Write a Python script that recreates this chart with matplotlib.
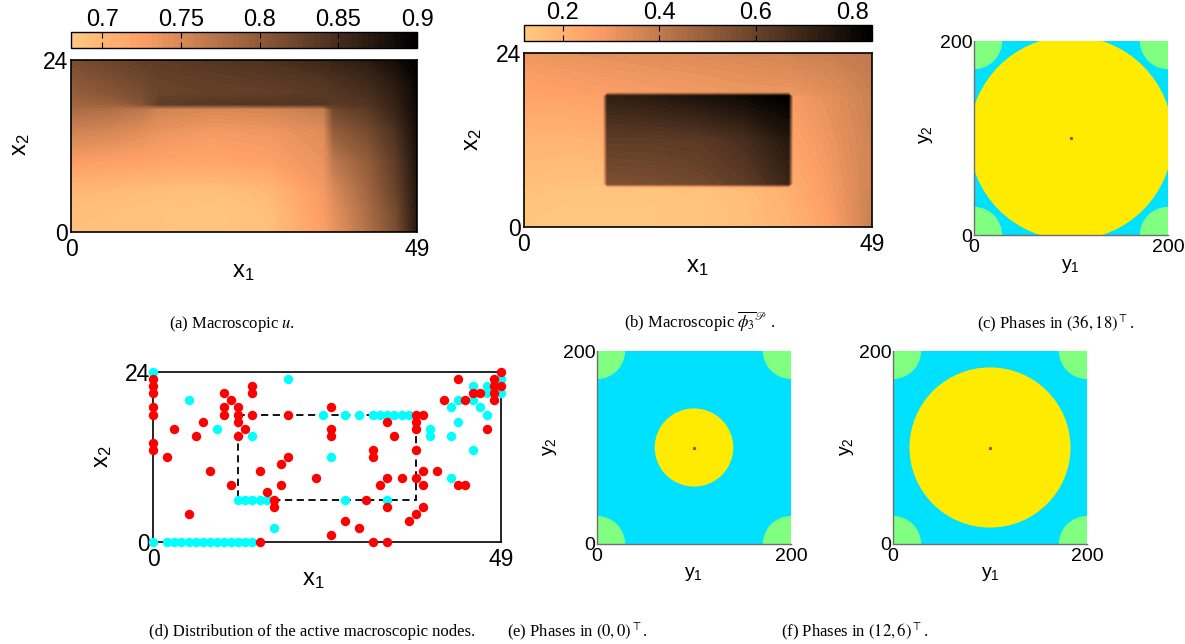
import numpy as np
import matplotlib
matplotlib.use('Agg')
import matplotlib.pyplot as plt
from matplotlib.patches import Circle, Rectangle
from matplotlib.colors import Normalize
from matplotlib.cm import ScalarMappable

plt.rcParams['font.family'] = ['Liberation Sans', 'DejaVu Sans']
plt.rcParams['mathtext.fontset'] = 'stix'

# ---- (a) macroscopic u, values read at grid nodes ----
ua_x1 = [0, 6, 10, 12.5, 20, 28, 35.8, 37.2, 42, 46, 49]
ua_x2 = [0, 3, 6, 10, 14, 17.2, 17.9, 19.5, 21.5, 24]
ua_vals = [
    [0.690, 0.690, 0.688, 0.687, 0.685, 0.690, 0.726, 0.736, 0.775, 0.812, 0.870],
    [0.692, 0.690, 0.688, 0.687, 0.685, 0.691, 0.728, 0.740, 0.780, 0.817, 0.870],
    [0.700, 0.697, 0.695, 0.693, 0.690, 0.699, 0.731, 0.748, 0.787, 0.826, 0.872],
    [0.728, 0.724, 0.722, 0.720, 0.718, 0.723, 0.738, 0.768, 0.797, 0.833, 0.876],
    [0.755, 0.750, 0.743, 0.737, 0.730, 0.733, 0.745, 0.795, 0.815, 0.845, 0.882],
    [0.782, 0.776, 0.768, 0.755, 0.750, 0.752, 0.762, 0.820, 0.835, 0.860, 0.886],
    [0.788, 0.792, 0.806, 0.832, 0.838, 0.839, 0.840, 0.834, 0.842, 0.862, 0.888],
    [0.796, 0.806, 0.815, 0.824, 0.828, 0.830, 0.836, 0.840, 0.848, 0.866, 0.890],
    [0.803, 0.814, 0.822, 0.828, 0.832, 0.836, 0.843, 0.847, 0.856, 0.873, 0.893],
    [0.815, 0.825, 0.830, 0.834, 0.840, 0.846, 0.856, 0.860, 0.868, 0.885, 0.898],
]
ua_ticks = [0.7, 0.75, 0.8, 0.85, 0.9]
ua_ticklabels = ['0.7', '0.75', '0.8', '0.85', '0.9']

# ---- (b) macroscopic phi_3 ----
ub_x1 = [0, 6, 11.2, 11.8, 18, 25, 31, 37.2, 37.8, 43, 49]
ub_x2 = [0, 3, 5.5, 6.0, 12, 18.0, 18.5, 21, 24]
ub_vals = [
    [0.13, 0.13, 0.13, 0.13, 0.13, 0.14, 0.16, 0.19, 0.20, 0.26, 0.38],
    [0.14, 0.13, 0.13, 0.13, 0.13, 0.14, 0.16, 0.20, 0.21, 0.27, 0.38],
    [0.15, 0.14, 0.14, 0.14, 0.14, 0.15, 0.17, 0.21, 0.22, 0.28, 0.37],
    [0.16, 0.15, 0.15, 0.55, 0.56, 0.58, 0.62, 0.70, 0.22, 0.28, 0.37],
    [0.19, 0.19, 0.20, 0.62, 0.62, 0.63, 0.67, 0.75, 0.25, 0.30, 0.37],
    [0.25, 0.25, 0.26, 0.72, 0.74, 0.77, 0.80, 0.84, 0.28, 0.32, 0.38],
    [0.25, 0.26, 0.27, 0.27, 0.28, 0.29, 0.30, 0.30, 0.30, 0.33, 0.38],
    [0.27, 0.28, 0.29, 0.29, 0.30, 0.31, 0.32, 0.33, 0.33, 0.35, 0.39],
    [0.30, 0.31, 0.32, 0.32, 0.33, 0.34, 0.35, 0.36, 0.37, 0.38, 0.40],
]
ub_ticks = [0.2, 0.4, 0.6, 0.8]
ub_ticklabels = ['0.2', '0.4', '0.6', '0.8']

# ---- (d) active macroscopic nodes ----
cyan_x1 = [0, 0, 2, 3, 4, 5, 6, 7, 8, 9, 10, 11, 12, 13, 14, 5, 9, 14, 19,
           12, 13, 14, 15, 16, 17, 25, 27, 33, 24, 27, 29, 31, 32, 33, 34, 35, 36,
           39, 39, 42, 42, 43, 43, 45, 42, 45, 45, 46, 47, 47, 47, 49, 49]
cyan_x2 = [24, 0, 0, 0, 0, 0, 0, 0, 0, 0, 0, 0, 0, 0, 0, 20, 16, 15, 23,
           6, 6, 6, 6, 6, 2, 12, 6, 6, 18, 18, 18, 18, 18, 18, 18, 18, 18,
           16, 15, 15, 19, 17, 20, 13, 9, 22, 20, 19, 18, 22, 21, 23, 21]
red_x1 = [0, 0, 0, 0, 0, 0, 0, 2, 3, 5, 6, 7, 8, 10, 10, 10, 11, 11,
          12, 12, 12, 12, 13, 14, 14, 14, 15, 15, 16, 17, 17, 18, 18, 19, 19, 23,
          25, 25, 25, 25, 27, 29, 30, 31, 31, 31, 32, 33, 33, 33, 33, 34, 35, 36,
          37, 37, 37, 37, 37, 37, 38, 38, 38, 38, 40, 41, 43, 43, 44, 44, 45, 46, 47,
          48, 48, 48, 48, 49, 49]
red_x2 = [23, 22, 21, 19, 18, 14, 13, 12, 16, 4, 15, 17, 10, 21, 19, 18, 20, 8,
          19, 18, 17, 15, 16, 22, 21, 18, 10, 0, 7, 6, 5, 11, 8, 12, 18, 9,
          19, 16, 15, 1, 3, 2, 6, 13, 12, 0, 8, 17, 9, 5, 0, 15, 9, 3,
          18, 17, 16, 13, 9, 4, 18, 10, 8, 5, 10, 20, 23, 8, 8, 20, 21, 21, 16,
          23, 22, 21, 20, 24, 22]
box_x1 = [12, 37]
box_x2 = [6, 18]

# ---- (c), (e), (f) phases: inclusion radii ----
phase_radius = {'c': 105, 'e': 40.5, 'f': 83}
corner_radius = 29
cell_size = 200

W, H = 1185, 644
fig = plt.figure(figsize=(W / 100, H / 100), dpi=100)
cmap = plt.get_cmap('copper_r', 64)


def rect(l, t, r, b):
    return [l / W, (H - b) / H, (r - l) / W, (b - t) / H]


def ftext(x, y, s, **kw):
    fig.text(x / W, 1 - y / H, s, ha='center', va='center', **kw)


def field_panel(box, cbox, x1, x2, vals, vmin, vmax, ticks, labels):
    ax = fig.add_axes(rect(*box))
    norm = Normalize(vmin, vmax)
    levels = np.linspace(vmin, vmax, 65)
    cs = ax.contourf(x1, x2, np.array(vals), levels=levels, cmap=cmap,
                     norm=norm, extend='both')
    cs.set_edgecolor('face')
    cs.set_linewidth(0.4)
    ax.set_xlim(0, 49)
    ax.set_ylim(0, 24)
    ax.set_xticks([0, 49])
    ax.set_yticks([0, 24])
    ax.tick_params(length=0, labelsize=16.5, pad=2)
    ax.tick_params(axis='x', pad=4)
    for s in ax.spines.values():
        s.set_linewidth(1.2)
        s.set_zorder(5)
    cax = fig.add_axes(rect(*cbox))
    cb = fig.colorbar(ScalarMappable(norm=norm, cmap=cmap), cax=cax,
                      orientation='horizontal')
    cb.set_ticks(ticks)
    cb.set_ticklabels(labels)
    cax.tick_params(axis='x', direction='in', top=True, bottom=True,
                    labeltop=True, labelbottom=False, length=4, width=0.8,
                    labelsize=17, pad=1)
    cb.outline.set_linewidth(1.0)
    return ax


def phase_panel(box, r):
    ax = fig.add_axes(rect(*box))
    ax.add_patch(Rectangle((0, 0), cell_size, cell_size, color='#00e1ff', lw=0))
    for cx in (0, cell_size):
        for cy in (0, cell_size):
            ax.add_patch(Circle((cx, cy), corner_radius, color='#80ff80', lw=0))
    ax.add_patch(Circle((cell_size / 2, cell_size / 2), r, color='#ffeb00', lw=0))
    ax.plot([cell_size / 2], [cell_size / 2], 's', color='#c84000', ms=1.2)
    ax.set_xlim(0, cell_size)
    ax.set_ylim(0, cell_size)
    ax.set_xticks([0, cell_size])
    ax.set_yticks([0, cell_size])
    ax.tick_params(length=0, labelsize=14, pad=1)
    ax.tick_params(axis='x', pad=3)
    ax.spines['top'].set_visible(False)
    ax.spines['right'].set_visible(False)
    for s in ('left', 'bottom'):
        ax.spines[s].set_color('#707070')
        ax.spines[s].set_linewidth(1.0)
    return ax


lab = r'$\mathregular{%s}$'

# (a)
field_panel((71, 60, 417, 232), (71, 32, 417, 48), ua_x1, ua_x2, ua_vals,
            0.68, 0.90, ua_ticks, ua_ticklabels)
ftext(243, 272, lab % 'x_1', fontsize=17)
ftext(21, 145, lab % 'x_2', fontsize=17, rotation=90)

# (b)
field_panel((524, 53, 872, 227), (524, 25, 872, 41), ub_x1, ub_x2, ub_vals,
            0.12, 0.84, ub_ticks, ub_ticklabels)
ftext(697, 267, lab % 'x_1', fontsize=17)
ftext(473, 140, lab % 'x_2', fontsize=17, rotation=90)

# (c)
phase_panel((974, 41, 1168, 235), phase_radius['c'])
ftext(1070, 266, lab % 'y_1', fontsize=14)
ftext(926, 135, lab % 'y_2', fontsize=14, rotation=90)

# (d)
axd = fig.add_axes(rect(153, 372, 501, 542))
axd.scatter(cyan_x1, cyan_x2, s=46, color='#00ffff', lw=0, clip_on=False, zorder=3)
axd.scatter(red_x1, red_x2, s=46, color='#ff0000', lw=0, clip_on=False, zorder=4)
axd.add_patch(Rectangle((box_x1[0], box_x2[0]), box_x1[1] - box_x1[0],
                        box_x2[1] - box_x2[0], fill=False, ec='k', lw=1.3,
                        ls=(0, (4, 2.5)), zorder=2))
axd.set_xlim(0, 49)
axd.set_ylim(0, 24)
axd.set_xticks([0, 49])
axd.set_yticks([0, 24])
axd.tick_params(length=0, labelsize=16.5, pad=2)
axd.tick_params(axis='x', pad=4)
for s in axd.spines.values():
    s.set_linewidth(1.2)
ftext(313, 580, lab % 'x_1', fontsize=17)
ftext(103, 457, lab % 'x_2', fontsize=17, rotation=90)

# (e)
phase_panel((597, 351, 791, 544), phase_radius['e'])
ftext(693, 574, lab % 'y_1', fontsize=14)
ftext(550, 447, lab % 'y_2', fontsize=14, rotation=90)

# (f)
phase_panel((893, 351, 1087, 544), phase_radius['f'])
ftext(990, 574, lab % 'y_1', fontsize=14)
ftext(847, 447, lab % 'y_2', fontsize=14, rotation=90)

# captions
cap = dict(fontsize=12, family=['Liberation Serif', 'DejaVu Serif'])
ftext(232, 324, r'(a) Macroscopic $\mathit{u}$.', **cap)
ftext(700, 322, r'(b) Macroscopic $\overline{\phi_3}^{\mathscr{P}}$ .', **cap)
ftext(1056, 324, r'(c) Phases in $\left(36,18\right)^{\top}$.', **cap)
ftext(312, 632, '(d) Distribution of the active macroscopic nodes.', **cap)
ftext(577, 632, r'(e) Phases in $\left(0,0\right)^{\top}$.', **cap)
ftext(855, 632, r'(f) Phases in $\left(12,6\right)^{\top}$.', **cap)

fig.savefig('out.png', dpi=100)
